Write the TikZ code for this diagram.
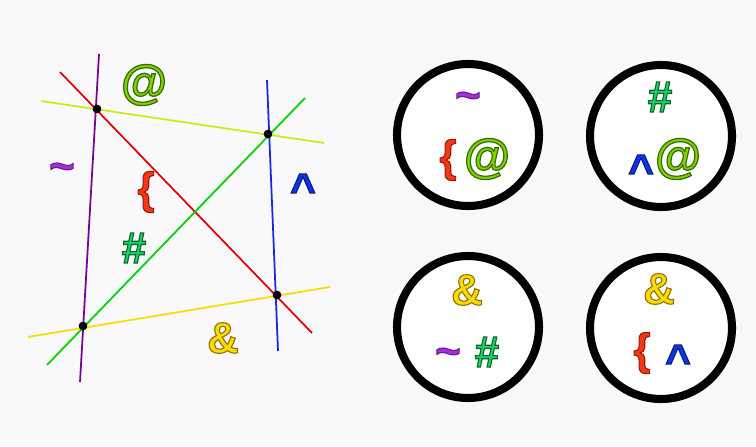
\documentclass[tikz,border=0pt]{standalone}
\usepackage{fontspec}
\setmainfont{Liberation Sans}
\newfontfamily\symfont[BoldFeatures={FakeBold=2.5}]{Liberation Sans}
\definecolor{bgc}{RGB}{249,249,252}
\definecolor{tildec}{RGB}{165,45,225}
\definecolor{bracec}{RGB}{245,55,20}
\definecolor{atc}{RGB}{125,210,0}
\definecolor{hashc}{RGB}{25,210,105}
\definecolor{caretc}{RGB}{10,55,225}
\definecolor{ampc}{RGB}{252,218,0}
\definecolor{purpleln}{RGB}{120,0,150}
\definecolor{redln}{RGB}{230,0,0}
\definecolor{limeln}{RGB}{205,235,20}
\definecolor{greenln}{RGB}{0,210,0}
\definecolor{blueln}{RGB}{20,40,220}
\definecolor{yellowln}{RGB}{250,220,0}
% fill colour, outline colour (pdf RG), glyph
\newcommand{\outsym}[3]{{\color{#1}\special{pdf:literal direct #2 RG}#3}}
\newcommand{\symtilde}{\outsym{tildec}{0.40 0.10 0.55}{\char`\~}}
\newcommand{\symbrace}{\outsym{bracec}{0.60 0.10 0.05}{\{}}
\newcommand{\symat}{\outsym{atc}{0.22 0.42 0.00}{@}}
\newcommand{\symhash}{\outsym{hashc}{0.05 0.40 0.15}{\#}}
\newcommand{\symcaret}{\outsym{caretc}{0.05 0.10 0.50}{\char`\^}}
\newcommand{\symamp}{\outsym{ampc}{0.55 0.45 0.00}{\&}}
\begin{document}
\begin{tikzpicture}
[
	x=0.02cm, y=-0.02cm,
	ln/.style={line width=1pt},
	sym/.style={font=\fontsize{25}{25}\symfont\bfseries,inner sep=0pt},
	bigsym/.style={font=\fontsize{27}{27}\symfont\bfseries,inner sep=0pt},
	dotpt/.style={circle,draw=black,fill=black,inner sep=0pt,minimum size=4.5pt},
	ring/.style={circle,draw=black,fill=white,line width=4.6pt,minimum size=2.84cm}
]

	\fill[bgc] (0,0) rectangle (756,446);

	% left figure: six lines
	\coordinate (pa) at (99,54);   \coordinate (pb) at (80,382);
	\coordinate (ra) at (60,72);   \coordinate (rb) at (312,333);
	\coordinate (la) at (41,101);  \coordinate (lb) at (324,143);
	\coordinate (ga) at (305,98);  \coordinate (gb) at (47,365);
	\coordinate (ba) at (267,80);  \coordinate (bb) at (278,351);
	\coordinate (ya) at (28,337);  \coordinate (yb) at (330,287);

	\draw[ln,purpleln] (pa) -- (pb);
	\draw[ln,redln] (ra) -- (rb);
	\draw[ln,limeln] (la) -- (lb);
	\draw[ln,greenln] (ga) -- (gb);
	\draw[ln,blueln] (ba) -- (bb);
	\draw[ln,yellowln] (ya) -- (yb);

	\node[dotpt] at (97,109) (d1) {};
	\node[dotpt] at (268,134) (d2) {};
	\node[dotpt] at (277,295) (d3) {};
	\node[dotpt] at (83,326) (d4) {};

	\node[bigsym] at (144,85) (at) {\symat};
	\node[sym] at (62,172) (tilde) {\symtilde};
	\node[sym] at (146,192) (brace) {\symbrace};
	\node[sym] at (303,189) (caret) {\symcaret};
	\node[sym] at (134,248) (hash) {\symhash};
	\node[sym] at (223,338) (amp) {\symamp};

	% right: four circles
	\node[ring] at (468,135) (c1) {};
	\node[ring] at (661,136) (c2) {};
	\node[ring] at (468,327) (c3) {};
	\node[ring] at (661,328) (c4) {};

	\node[sym] at (468,101) (t1) {\symtilde};
	\node[sym] at (448,160) (b1) {\symbrace};
	\node[bigsym] at (487,159) (a1) {\symat};

	\node[sym] at (660,97) (h2) {\symhash};
	\node[sym] at (641,170) (c2a) {\symcaret};
	\node[bigsym] at (678,159) (a2) {\symat};

	\node[sym] at (467,290) (m3) {\symamp};
	\node[sym] at (448,357) (t3) {\symtilde};
	\node[sym] at (487,352) (h3) {\symhash};

	\node[sym] at (659,289) (m4) {\symamp};
	\node[sym] at (642,353) (b4) {\symbrace};
	\node[sym] at (678,360) (c4a) {\symcaret};

\end{tikzpicture}
\end{document}
